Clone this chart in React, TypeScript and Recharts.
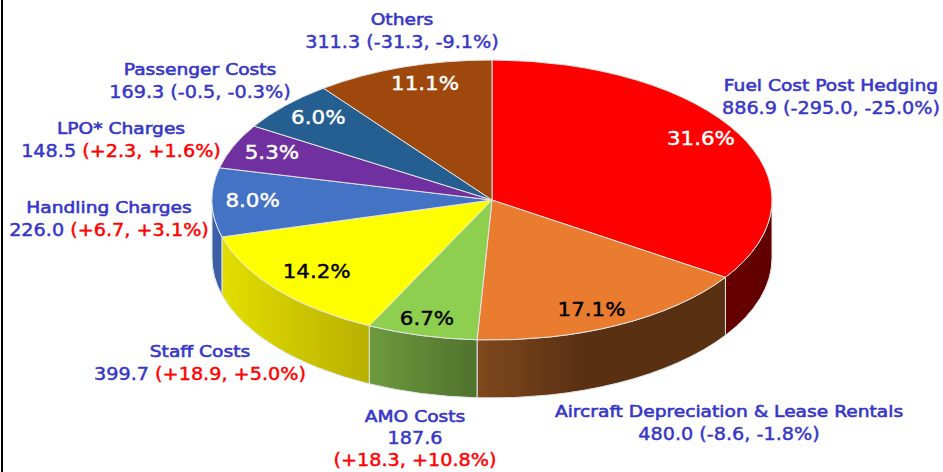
import React from 'react';
import { PieChart, Pie } from 'recharts';

// costs, in the order they run clockwise from 12 o'clock
const names = ['Fuel Cost Post Hedging', 'Aircraft Depreciation & Lease Rentals', 'AMO Costs', 'Staff Costs', 'Handling Charges', 'LPO* Charges', 'Passenger Costs', 'Others'];
const values = [886.9, 480.0, 187.6, 399.7, 226.0, 148.5, 169.3, 311.3];
const changes = [-295.0, -8.6, 18.3, 18.9, 6.7, 2.3, -0.5, -31.3];
const changePcts = [-25.0, -1.8, 10.8, 5.0, 3.1, 1.6, -0.3, -9.1];

const topColors = ['#ff0000', '#ea7c30', '#8fcf4f', '#ffff00', '#4472c4', '#7030a0', '#255e91', '#9e480e'];
const wallLeft = ['#660000', '#80491d', '#6d9a3e', '#e2de00', '#3c60a8', '#5a2680', '#1e4c75', '#7e3a0b'];
const wallRight = ['#600000', '#5a3012', '#4f722d', '#b8b000', '#3c60a8', '#5a2680', '#1e4c75', '#7e3a0b'];
const wallStop = ['100%', '42%', '100%', '100%', '100%', '100%', '100%', '100%'];
const pctColors = ['#fff', '#000', '#000', '#000', '#fff', '#fff', '#fff', '#fff'];

// centre of each outside caption, and small nudges for the inside percentages
const captionPos: [number, number][] = [[831, 85], [729, 411], [415, 416], [200, 351], [109, 207], [121, 128], [200, 69], [402, 19]];
const pctNudge: [number, number][] = [[-2, -5], [-8, 2], [-5, 2], [9, -5], [0, -2], [1, -2], [3, -2], [9, -3]];

const CX = 492;
const CY = 200;
const RX = 280;
const SQUASH = 0.5;
const DEPTH = 58;
const BLUE = '#3636c8';
const FONT = '"DejaVu Sans", Verdana, sans-serif';

// the source picture's perspective pushes angles clockwise a little
const warpPts = [[0, 0], [114, 9.9], [175, 7.9], [199, 6.8], [250, 4.3], [280, 3.9], [320, 2.9], [360, 0]];
function warp(t: number) {
  for (let i = 1; i < warpPts.length; i++) {
    const [a, da] = warpPts[i - 1];
    const [b, db] = warpPts[i];
    if (t <= b) return t + da + ((db - da) * (t - a)) / (b - a);
  }
  return t;
}

// recharts angle (deg, ccw from 3 o'clock) -> clockwise from 12 o'clock
const toClock = (a: number) => 90 - a;

function pt(t: number, ry: number, rx: number) {
  const r = (t * Math.PI) / 180;
  return [CX + rx * Math.sin(r), CY - ry * Math.cos(r)];
}

function TopSlice(p: any) {
  const rx = p.outerRadius;
  const ry = rx * SQUASH;
  const t0 = warp(toClock(p.startAngle));
  const t1 = warp(toClock(p.endAngle));
  const [x0, y0] = pt(t0, ry, rx);
  const [x1, y1] = pt(t1, ry, rx);
  const large = t1 - t0 > 180 ? 1 : 0;
  return (
    <path
      d={`M${CX},${CY} L${x0},${y0} A${rx},${ry} 0 ${large} 1 ${x1},${y1} Z`}
      fill={topColors[p.index]}
      stroke="#e4e4e4"
      strokeWidth={1}
    />
  );
}

function WallSlice(p: any) {
  const rx = p.outerRadius;
  const ry = rx * SQUASH;
  const t0 = Math.max(warp(toClock(p.startAngle)), 90);
  const t1 = Math.min(warp(toClock(p.endAngle)), 270);
  if (t1 <= t0) return <g />;
  const [x0, y0] = pt(t0, ry, rx);
  const [x1, y1] = pt(t1, ry, rx);
  return (
    <path
      d={`M${x0},${y0} A${rx},${ry} 0 0 1 ${x1},${y1} L${x1},${y1 + DEPTH} A${rx},${ry} 0 0 0 ${x0},${y0 + DEPTH} Z`}
      fill={`url(#wall-${p.index})`}
      stroke="#e4e4e4"
      strokeWidth={1}
    />
  );
}

function signed(v: number) {
  return (v > 0 ? '+' : '') + v.toFixed(1);
}

function Caption({ i }: { i: number }) {
  const [x, y] = captionPos[i];
  const up = changes[i] > 0;
  const nums = `(${signed(changes[i])}, ${signed(changePcts[i])}%)`;
  const common = {
    transform: `translate(${x},${y}) scale(1.13,1)`,
    textAnchor: 'middle' as const,
    fontFamily: FONT,
    fontSize: 17,
    strokeWidth: 0.45,
    fill: BLUE,
    stroke: BLUE,
  };
  const changeStyle = { fill: up ? '#ff0000' : BLUE, stroke: up ? '#ff0000' : BLUE };
  const title = <tspan x={0} y={6} fontSize={16.5} strokeWidth={0.6}>{names[i]}</tspan>;
  if (names[i] === 'AMO Costs') {
    return (
      <text {...common}>
        {title}
        <tspan x={0} y={28}>{values[i].toFixed(1)}</tspan>
        <tspan x={0} y={50} {...changeStyle}>{nums}</tspan>
      </text>
    );
  }
  return (
    <text {...common}>
      {title}
      <tspan x={0} y={29}>{values[i].toFixed(1)} <tspan {...changeStyle}>{nums}</tspan></tspan>
    </text>
  );
}

function SliceLabel(p: any) {
  const rx = p.outerRadius;
  const t = warp(toClock(p.midAngle));
  const [x, y] = pt(t, rx * SQUASH * 0.855, rx * 0.855);
  const [nx, ny] = pctNudge[p.index];
  return (
    <g>
      <text
        transform={`translate(${x + nx},${y + ny + 7}) scale(1.07,1)`}
        textAnchor="middle"
        fontFamily={FONT}
        fontSize={20}
        fill={pctColors[p.index]}
        stroke={pctColors[p.index]}
        strokeWidth={0.45}
      >
        {(p.percent * 100).toFixed(1)}%
      </text>
      <Caption i={p.index} />
    </g>
  );
}

const chartData = names.map((name, i) => ({ name, value: values[i] }));

export default function App() {
  return (
    <div style={{ position: 'absolute', left: 0, top: 0, width: 943, height: 472, background: '#fff' }}>
      <div style={{ position: 'absolute', left: 1, top: 0, width: 2, height: 472, background: '#000' }} />
      <PieChart width={943} height={472} margin={{ top: 0, right: 0, bottom: 0, left: 0 }}>
        <defs>
          {names.map((n, i) => (
            <linearGradient key={n} id={`wall-${i}`} x1="0" y1="0" x2="1" y2="0">
              <stop offset="0%" stopColor={wallLeft[i]} />
              <stop offset={wallStop[i]} stopColor={wallRight[i]} />
            </linearGradient>
          ))}
        </defs>
        <Pie
          data={chartData}
          dataKey="value"
          cx={CX}
          cy={CY}
          outerRadius={RX}
          startAngle={90}
          endAngle={-270}
          shape={WallSlice}
          isAnimationActive={false}
          legendType="none"
        />
        <Pie
          data={chartData}
          dataKey="value"
          cx={CX}
          cy={CY}
          outerRadius={RX}
          startAngle={90}
          endAngle={-270}
          shape={TopSlice}
          label={SliceLabel}
          labelLine={false}
          isAnimationActive={false}
          legendType="none"
        />
      </PieChart>
    </div>
  );
}
